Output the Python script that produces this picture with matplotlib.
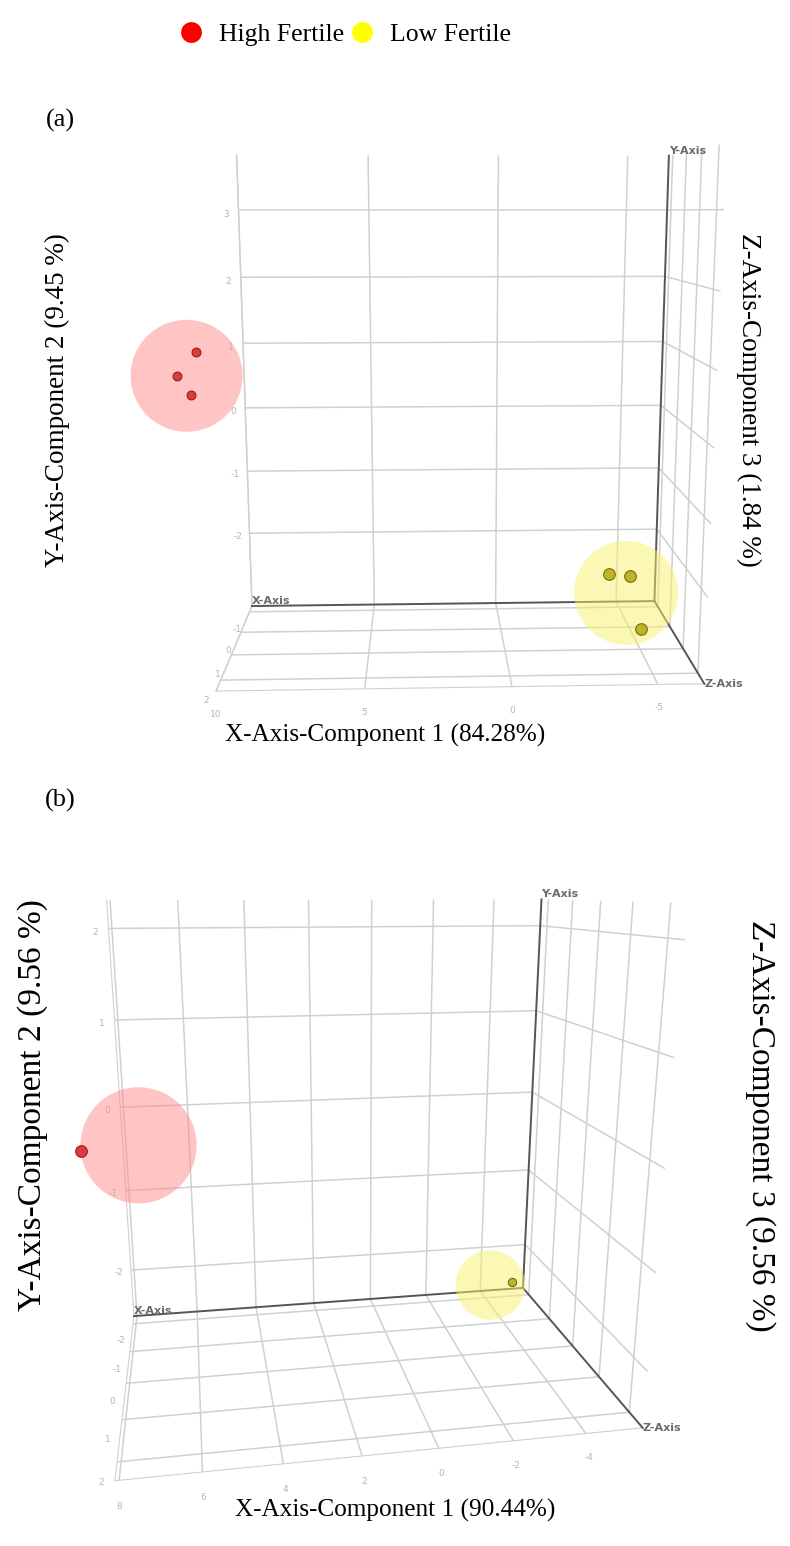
import matplotlib.pyplot as plt
from matplotlib.lines import Line2D

plt.rcParams['font.family'] = ['DejaVu Sans']
plt.rcParams['axes.unicode_minus'] = False
plt.rcParams['grid.color'] = '#d0d0d0'
plt.rcParams['grid.linewidth'] = 1.1

SERIF = ['Liberation Serif', 'DejaVu Serif']

# panel (a) scores: component 1, 2, 3 for each group
a_high_pc1 = [10.3, 10.9, 10.5]
a_high_pc2 = [1.25, 0.95, 0.7]
a_high_pc3 = [2.2, 2.3, 2.2]
a_low_pc1 = [-4.1, -5.0, -5.0]
a_low_pc2 = [-2.3, -2.4, -2.9]
a_low_pc3 = [0.2, 0.0, 1.0]
# confidence sphere centres (pc1, pc2, pc3)
a_high_centre = [10.6, 0.95, 2.25]
a_low_centre = [-4.7, -2.55, 0.35]

# panel (b) scores
b_high_pc1 = [8.4]
b_high_pc2 = [0.32]
b_high_pc3 = [2.0]
b_low_pc1 = [-4.8]
b_low_pc2 = [-2.35]
b_low_pc3 = [-1.8]
b_high_centre = [7.1, 0.35, 2.0]
b_low_centre = [-3.9, -2.3, -1.6]

# axis ranges and ticks
a_lim = {'x': (-6.6, 10), 'y': (-1.3, 2.4), 'z': (-3.2, 3.8)}
a_ticks = {'x': [10, 5, 0, -5], 'y': [-1, 0, 1, 2], 'z': [-2, -1, 0, 1, 2, 3]}
b_lim = {'x': (-5.6, 8.1), 'y': (-2.3, 2.4), 'z': (-2.6, 2.3)}
b_ticks = {'x': [8, 6, 4, 2, 0, -2, -4], 'y': [-2, -1, 0, 1, 2], 'z': [-2, -1, 0, 1, 2]}

high_fill = '#ff8a8a'
low_fill = '#f6f26a'
high_pt = '#dc3c3c'
low_pt = '#bdb526'


def draw_panel(ax, groups, lim, ticks, elev, azim, focal):
    ax.set_proj_type('persp', focal_length=focal)
    ax.computed_zorder = False
    ax.set_xlim(lim['x'])
    ax.set_ylim(lim['y'])
    ax.set_zlim(lim['z'])
    ax.set_xticks(ticks['x'])
    ax.set_yticks(ticks['y'])
    ax.set_zticks(ticks['z'])
    for axis in (ax.xaxis, ax.yaxis, ax.zaxis):
        axis.set_pane_color((1, 1, 1, 0))
        axis.line.set_color('#d0d0d0')
        axis._axinfo['tick']['inward_factor'] = 0
        axis._axinfo['tick']['outward_factor'] = 0
        axis.label.set_visible(False)
        axis.offsetText.set_visible(False)
    ax.tick_params(labelsize=6.5, labelcolor='#b5b5b5', pad=0)
    ax.view_init(elev=elev, azim=azim)

    # main axes through the back-bottom corner
    x0, x1 = lim['x']
    y0, y1 = lim['y']
    z0, z1 = lim['z']
    kw = dict(color='#555555', lw=1.4, zorder=3)
    ax.plot([x0, x1], [y0, y0], [z0, z0], **kw)
    ax.plot([x0, x0], [y0, y0], [z0, z1], **kw)
    ax.plot([x0, x0], [y0, y1], [z0, z0], **kw)
    tkw = dict(color='#6a6a6a', fontsize=8, fontweight='bold', zorder=4)
    ax.text(x1, y0, z0, 'X-Axis', ha='left', va='bottom', **tkw)
    ax.text(x0, y0, z1, 'Y-Axis', ha='left', va='bottom', **tkw)
    ax.text(x0, y1, z0, 'Z-Axis', ha='left', va='center', **tkw)

    # groups: (pc1, pc2, pc3, centre, fill, point colour, edge, halo size, point size)
    for p1, p2, p3, c, fill, pt, edge, hs, ps in groups:
        halo = ax.scatter([c[0]], [c[2]], [c[1]], s=hs, c=fill, alpha=0.5,
                          edgecolors='none', depthshade=False, zorder=5)
        pts = ax.scatter(p1, p3, p2, s=ps, c=pt, edgecolors=edge, linewidths=0.8,
                         depthshade=False, zorder=6)
        halo.set_clip_on(False)
        pts.set_clip_on(False)


fig = plt.figure(figsize=(7.9, 15.46), dpi=100)

ax_a = fig.add_axes([0.138, 0.507, 0.86, 0.45], projection='3d')
ax_a.set_box_aspect((0.92, 0.45, 1.0), zoom=1.02)
draw_panel(ax_a,
           [(a_high_pc1, a_high_pc2, a_high_pc3, a_high_centre, high_fill, high_pt,
             '#9a1a1a', 6500, 40),
            (a_low_pc1, a_low_pc2, a_low_pc3, a_low_centre, low_fill, low_pt,
             '#7a6a10', 5600, 70)],
           a_lim, a_ticks, elev=10, azim=88, focal=0.3)

ax_b = fig.add_axes([-0.038, 0.021, 0.96, 0.46], projection='3d')
ax_b.set_box_aspect((1.01, 0.7, 1.0), zoom=1.035)
draw_panel(ax_b,
           [(b_high_pc1, b_high_pc2, b_high_pc3, b_high_centre, high_fill, high_pt,
             '#9a1a1a', 7000, 70),
            (b_low_pc1, b_low_pc2, b_low_pc3, b_low_centre, low_fill, low_pt,
             '#7a6a10', 2500, 35)],
           b_lim, b_ticks, elev=15, azim=80, focal=0.25)

# legend
handles = [Line2D([], [], ls='none', marker='o', ms=15, mfc='#ff0000', mec='none'),
           Line2D([], [], ls='none', marker='o', ms=15, mfc='#ffff00', mec='none')]
fig.legend(handles, ['High Fertile', 'Low Fertile'], loc='upper center',
           bbox_to_anchor=(0.436, 1.0), ncol=2, frameon=False, handlelength=1.0,
           handletextpad=0.6, columnspacing=0.2, prop={'family': SERIF, 'size': 18.5})

# panel letters and component labels
fig.text(0.076, 0.922, '(a)', family=SERIF, fontsize=19, ha='center', va='center')
fig.text(0.076, 0.4825, '(b)', family=SERIF, fontsize=19, ha='center', va='center')
fig.text(0.073, 0.741, 'Y-Axis-Component 2 (9.45 %)', family=SERIF, fontsize=19.5,
         rotation=90, ha='center', va='center')
fig.text(0.947, 0.741, 'Z-Axis-Component 3 (1.84 %)', family=SERIF, fontsize=19.5,
         rotation=-90, ha='center', va='center')
fig.text(0.487, 0.5246, 'X-Axis-Component 1 (84.28%)', family=SERIF, fontsize=18.2,
         ha='center', va='center')
fig.text(0.041, 0.285, 'Y-Axis-Component 2 (9.56 %)', family=SERIF, fontsize=24,
         rotation=90, ha='center', va='center')
fig.text(0.962, 0.272, 'Z-Axis-Component 3 (9.56 %)', family=SERIF, fontsize=24,
         rotation=-90, ha='center', va='center')
fig.text(0.5, 0.023, 'X-Axis-Component 1 (90.44%)', family=SERIF, fontsize=18.2,
         ha='center', va='center')

fig.savefig('out.png', dpi=100)
